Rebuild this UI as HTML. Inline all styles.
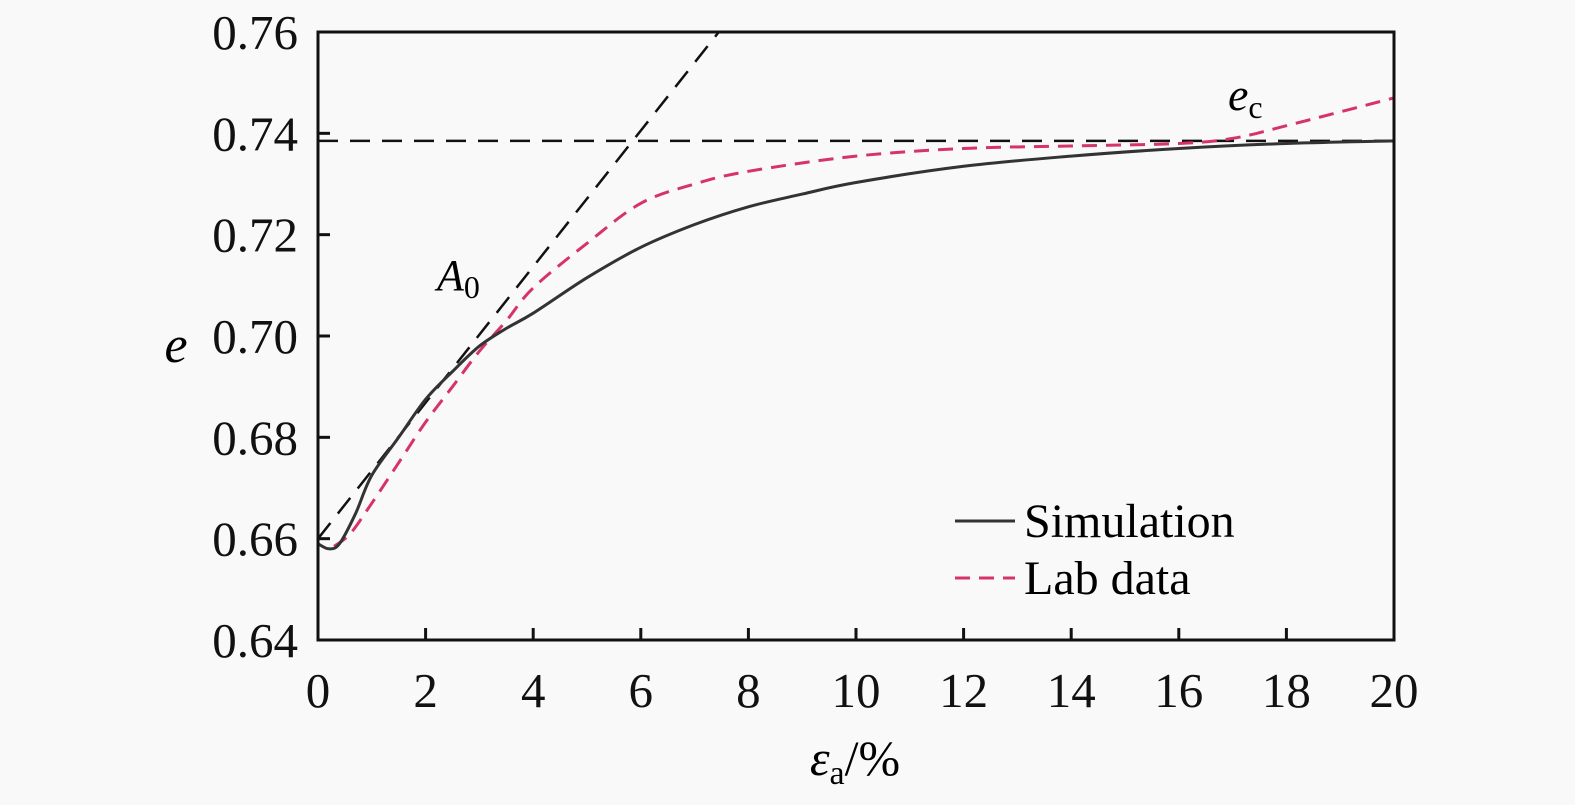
<!DOCTYPE html>
<html><head><meta charset="utf-8"><style>
body{margin:0;background:#f9f9f9}
svg{display:block;font-family:"Liberation Serif",serif}
</style></head><body>
<svg width="1575" height="805">
<rect width="1575" height="805" fill="#f9f9f9"/>
<g id="marks"></g>
<rect x="318" y="32" width="1076" height="608" fill="none" stroke="#111" stroke-width="3"/>
<g id="axes" font-size="49" fill="#111"></g>
<text x="437" y="290" font-size="44" font-style="italic">A<tspan font-style="normal" font-size="32" dy="8">0</tspan></text>
<text x="1228" y="110" font-size="46" font-style="italic">e<tspan font-style="normal" font-size="32" dy="8">c</tspan></text>
<text x="176" y="362" font-size="52" font-style="italic" text-anchor="middle">e</text>
<text x="855" y="775" font-size="50" text-anchor="middle"><tspan font-style="italic">ε</tspan><tspan font-size="34" dy="9">a</tspan><tspan dy="-9">/%</tspan></text>
<g>
<line x1="955" y1="521" x2="1015" y2="521" stroke="#333" stroke-width="3"/>
<text x="1024" y="537" font-size="48">Simulation</text>
<line x1="955" y1="578" x2="1015" y2="578" stroke="#d6336c" stroke-width="3" stroke-dasharray="15,9"/>
<text x="1024" y="594" font-size="48">Lab data</text>
</g>
</svg>
<script>
const xTicks=[0,2,4,6,8,10,12,14,16,18,20];
const yTicks=[0.64,0.66,0.68,0.70,0.72,0.74,0.76];
const yTickLabels=["0.64","0.66","0.68","0.70","0.72","0.74","0.76"];
const simX=[0,0.2,0.4,0.7,1,1.5,2,2.5,3,3.5,4,5,6,7,8,9,10,12,14,16,18,20];
const simY=[0.659,0.658,0.659,0.665,0.6725,0.680,0.6875,0.693,0.698,0.7015,0.7045,0.7115,0.7175,0.722,0.7255,0.728,0.7303,0.7335,0.7355,0.737,0.738,0.7385];
const labX=[0.3,0.6,1,1.5,2,2.5,3,3.5,4,5,6,7,8,10,12,14,16,17,18,20];
const labY=[0.6585,0.661,0.667,0.675,0.683,0.690,0.697,0.703,0.7095,0.7183,0.7262,0.730,0.7325,0.7355,0.737,0.7375,0.738,0.739,0.7415,0.747];
const tangentX=[0,7.45];
const tangentY=[0.66,0.76];
const ecValue=0.7385;
const X=v=>318+v*53.8, Y=v=>640-(v-0.64)*5066.7;
const NS="http://www.w3.org/2000/svg";
const axes=document.getElementById('axes'), marks=document.getElementById('marks');
function mk(t,a,p){const e=document.createElementNS(NS,t);for(const k in a)e.setAttribute(k,a[k]);p.appendChild(e);return e;}
xTicks.forEach(v=>{
 const l=mk('line',{x1:X(v),x2:X(v),y1:640,y2:628,stroke:'#111','stroke-width':3},axes);
 
 
 const t=mk('text',{x:X(v),y:707,'text-anchor':'middle'},axes);t.textContent=v;
 
 
});
yTicks.forEach((v,i)=>{
 const l=mk('line',{x1:318,x2:330,y1:Y(v),y2:Y(v),stroke:'#111','stroke-width':3},axes);
 
 
 const t=mk('text',{x:298,y:Y(v)+17,'text-anchor':'end'},axes);t.textContent=yTickLabels[i];
 
 
});
const h=mk('line',{x1:X(0),x2:X(20),y1:Y(ecValue),y2:Y(ecValue),stroke:'#111','stroke-width':2.5,'stroke-dasharray':'20,12'},marks);


const tg=mk('line',{x1:X(tangentX[0]),x2:X(tangentX[1]),y1:Y(tangentY[0]),y2:Y(tangentY[1]),stroke:'#111','stroke-width':2.5,'stroke-dasharray':'20,12'},marks);


function path(xs,ys){
 const p=xs.map((x,i)=>[X(x),Y(ys[i])]);
 let d='M'+p[0][0].toFixed(1)+','+p[0][1].toFixed(1);
 for(let i=0;i<p.length-1;i++){
  const p0=p[Math.max(0,i-1)],p1=p[i],p2=p[i+1],p3=p[Math.min(p.length-1,i+2)];
  const c1=[p1[0]+(p2[0]-p0[0])/6,p1[1]+(p2[1]-p0[1])/6];
  const c2=[p2[0]-(p3[0]-p1[0])/6,p2[1]-(p3[1]-p1[1])/6];
  d+=' C'+c1.map(n=>n.toFixed(1)).join(',')+' '+c2.map(n=>n.toFixed(1)).join(',')+' '+p2[0].toFixed(1)+','+p2[1].toFixed(1);
 }
 return d;
}
const lab=mk('path',{d:path(labX,labY),fill:'none',stroke:'#d6336c','stroke-width':3,'stroke-dasharray':'15,9'},marks);


const sim=mk('path',{d:path(simX,simY),fill:'none',stroke:'#333','stroke-width':3,'stroke-linejoin':'round'},marks);


</script>
</body></html>
